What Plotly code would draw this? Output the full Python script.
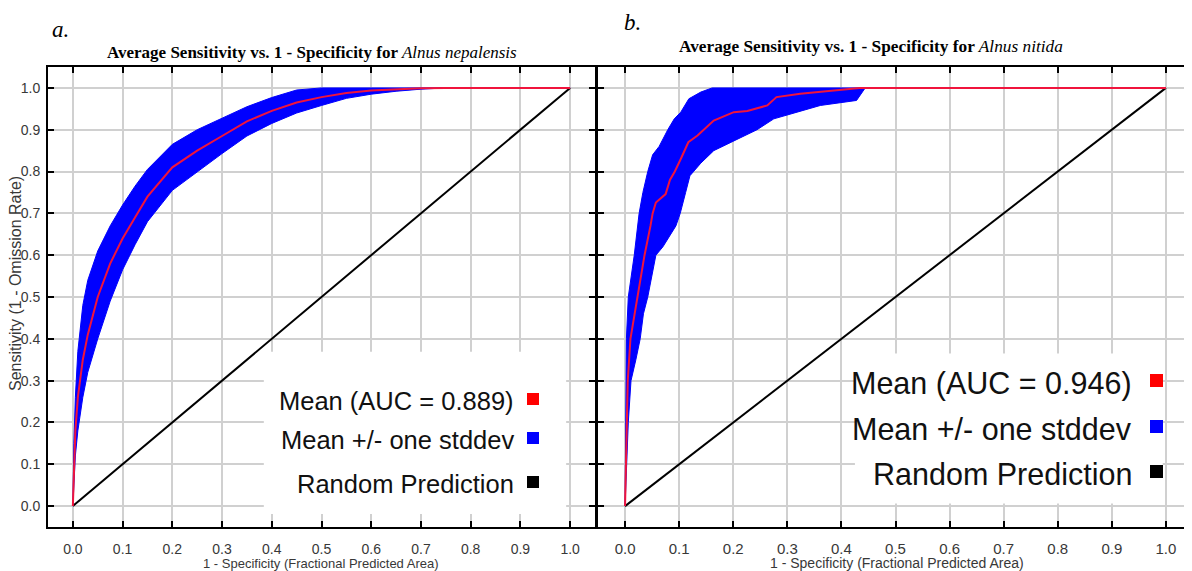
import plotly.graph_objects as go

W, H = 1192, 571
OFF = 8  # default page body margin in the exported html

# ---------------- Data: panel a (Alnus nepalensis) ----------------
a_x = [0.0, 0.002, 0.005, 0.01, 0.02, 0.03, 0.05, 0.075, 0.1, 0.125, 0.15, 0.2, 0.25,
       0.3, 0.35, 0.4, 0.45, 0.5, 0.55, 0.6, 0.65, 0.7, 0.75, 1.0]
a_mean = [0.0, 0.10, 0.18, 0.26, 0.35, 0.41, 0.50, 0.58, 0.64, 0.69, 0.74, 0.81, 0.85,
          0.885, 0.92, 0.945, 0.965, 0.978, 0.988, 0.994, 0.997, 0.999, 1.0, 1.0]
a_upper = [0.0, 0.15, 0.26, 0.37, 0.48, 0.54, 0.61, 0.67, 0.72, 0.765, 0.805, 0.865, 0.90,
           0.927, 0.955, 0.977, 0.995, 1.0, 1.0, 1.0, 1.0, 1.0, 1.0, 1.0]
a_lower = [0.0, 0.06, 0.12, 0.18, 0.26, 0.32, 0.40, 0.49, 0.565, 0.625, 0.68, 0.755, 0.80,
           0.843, 0.885, 0.915, 0.94, 0.958, 0.975, 0.985, 0.992, 0.997, 1.0, 1.0]

# ---------------- Data: panel b (Alnus nitida) ----------------
b_x = [0.0, 0.0025, 0.005, 0.01, 0.023, 0.036, 0.047, 0.051, 0.057, 0.075, 0.083, 0.092,
       0.103, 0.117, 0.134, 0.164, 0.201, 0.226, 0.263, 0.28, 0.324, 0.385, 0.434, 1.0]
b_mean = [0.0, 0.2, 0.3, 0.4, 0.5, 0.6, 0.67, 0.7, 0.726, 0.746, 0.78, 0.8,
          0.83, 0.87, 0.886, 0.922, 0.942, 0.945, 0.958, 0.978, 0.986, 0.994, 1.0, 1.0]
b_upper_x = [0.0, 0.001, 0.0025, 0.006, 0.017, 0.026, 0.033, 0.042, 0.051, 0.063, 0.079,
             0.091, 0.103, 0.118, 0.14, 0.161, 0.444]
b_upper_y = [0.0, 0.2, 0.4, 0.5, 0.6, 0.7, 0.75, 0.8, 0.84, 0.86, 0.9,
             0.926, 0.942, 0.974, 0.99, 1.0, 1.0]
b_lower_x = [0.0, 0.006, 0.011, 0.02, 0.028, 0.034, 0.042, 0.048, 0.057, 0.07, 0.094, 0.102,
             0.112, 0.12, 0.14, 0.164, 0.201, 0.244, 0.275, 0.318, 0.361, 0.428, 0.444]
b_lower_y = [0.0, 0.2, 0.3, 0.35, 0.4, 0.46, 0.5, 0.54, 0.6, 0.62, 0.67, 0.7,
             0.75, 0.79, 0.82, 0.85, 0.874, 0.9, 0.926, 0.942, 0.958, 0.97, 1.0]

diag = [0.0, 1.0]
ticks = [0.0, 0.1, 0.2, 0.3, 0.4, 0.5, 0.6, 0.7, 0.8, 0.9, 1.0]
tick_text = ["0.0", "0.1", "0.2", "0.3", "0.4", "0.5", "0.6", "0.7", "0.8", "0.9", "1.0"]

legend_labels_a = ["Mean (AUC = 0.889)", "Mean +/- one stddev", "Random Prediction"]
legend_labels_b = ["Mean (AUC = 0.946)", "Mean +/- one stddev", "Random Prediction"]
legend_colors = ["#ff0000", "#0000ff", "#000000"]

BLUE = "#0000ff"
RED = "#f0143c"
SANS = "Liberation Sans Narrow, Liberation Sans, Arial, sans-serif"
GREY = "#383838"

fig = go.Figure()

# panel a
fig.add_trace(go.Scatter(x=a_x + a_x[::-1], y=a_upper + a_lower[::-1], fill="toself",
                         fillcolor=BLUE, line=dict(color=BLUE, width=1), mode="lines",
                         xaxis="x", yaxis="y", hoverinfo="skip"))
fig.add_trace(go.Scatter(x=diag, y=diag, mode="lines", line=dict(color="black", width=2),
                         xaxis="x", yaxis="y"))
fig.add_trace(go.Scatter(x=a_x, y=a_mean, mode="lines", line=dict(color=RED, width=2),
                         xaxis="x", yaxis="y"))

# panel b
fig.add_trace(go.Scatter(x=b_upper_x + b_lower_x[::-1], y=b_upper_y + b_lower_y[::-1],
                         fill="toself", fillcolor=BLUE, line=dict(color=BLUE, width=1),
                         mode="lines", xaxis="x2", yaxis="y2", hoverinfo="skip"))
fig.add_trace(go.Scatter(x=diag, y=diag, mode="lines", line=dict(color="black", width=2),
                         xaxis="x2", yaxis="y2"))
fig.add_trace(go.Scatter(x=b_x, y=b_mean, mode="lines", line=dict(color=RED, width=2),
                         xaxis="x2", yaxis="y2"))


def px(x):
    """page pixel x -> paper fraction"""
    return (x - OFF) / W


def py(y):
    """page pixel y -> paper fraction"""
    return 1 - (y - OFF) / H


ydom = [py(527), py(67)]

axis_common = dict(range=[-0.05, 1.05], tickvals=ticks, ticktext=tick_text,
                   showgrid=True, gridcolor="#d0d0d0", gridwidth=1.5,
                   showline=True, linecolor="black", linewidth=2, mirror="ticks",
                   ticks="inside", ticklen=6, tickwidth=1.5, tickcolor="black",
                   zeroline=False, fixedrange=True)

fig.update_layout(
    width=W, height=H, margin=dict(l=0, r=0, t=0, b=0),
    paper_bgcolor="white", plot_bgcolor="white", showlegend=False,
    xaxis=dict(domain=[px(48), px(595)], anchor="y",
               tickfont=dict(family=SANS, size=14, color=GREY),
               ticklabelstandoff=8, **axis_common),
    yaxis=dict(domain=ydom, anchor="x",
               tickfont=dict(family=SANS, size=14, color=GREY),
               ticklabelstandoff=3, **axis_common),
    xaxis2=dict(domain=[px(598), px(1193)], anchor="y2",
                tickfont=dict(family=SANS, size=15, color=GREY),
                ticklabelstandoff=7, **axis_common),
    yaxis2=dict(domain=ydom, anchor="x2", showticklabels=False, **axis_common),
)
fig.update_layout(yaxis2=dict(linewidth=3))

ann = []
# panel letters
ann.append(dict(text="<i>a.</i>", x=px(50), y=py(30), xref="paper", yref="paper",
                xanchor="left", yanchor="middle", showarrow=False,
                font=dict(family="Liberation Serif", size=23, color="black")))
ann.append(dict(text="<i>b.</i>", x=px(622), y=py(22), xref="paper", yref="paper",
                xanchor="left", yanchor="middle", showarrow=False,
                font=dict(family="Liberation Serif", size=23, color="black")))
# titles
ann.append(dict(text="<b>Average Sensitivity vs. 1 - Specificity for </b><i>Alnus nepalensis</i>",
                x=px(312), y=py(53), xref="paper", yref="paper", xanchor="center",
                yanchor="middle", showarrow=False,
                font=dict(family="Liberation Serif", size=17, color="black")))
ann.append(dict(text="<b>Average Sensitivity vs. 1 - Specificity for </b><i>Alnus nitida</i>",
                x=px(871), y=py(47), xref="paper", yref="paper", xanchor="center",
                yanchor="middle", showarrow=False,
                font=dict(family="Liberation Serif", size=17.3, color="black")))
# axis titles
ann.append(dict(text="Sensitivity (1 - Omission Rate)", x=px(15), y=py(284), xref="paper",
                yref="paper", xanchor="center", yanchor="middle", textangle=-90,
                showarrow=False, font=dict(family=SANS, size=16, color=GREY)))
ann.append(dict(text="1 - Specificity (Fractional Predicted Area)", x=px(321), y=py(563),
                xref="paper", yref="paper", xanchor="center", yanchor="middle",
                showarrow=False, font=dict(family=SANS, size=13, color=GREY)))
ann.append(dict(text="1 - Specificity (Fractional Predicted Area)", x=px(897), y=py(563),
                xref="paper", yref="paper", xanchor="center", yanchor="middle",
                showarrow=False, font=dict(family=SANS, size=14, color=GREY)))

shapes = []
# legend backgrounds
shapes.append(dict(type="rect", xref="x", yref="y", x0=0.384, x1=0.992, y0=-0.019, y1=0.369,
                   fillcolor="white", line=dict(width=0), layer="between"))
shapes.append(dict(type="rect", xref="x2", yref="y2", x0=0.425, x1=0.994, y0=0.006, y1=0.365,
                   fillcolor="white", line=dict(width=0), layer="between"))

leg_a_y = [401, 440, 484]
leg_b_y = [383, 429, 474]
for i in range(3):
    ann.append(dict(text=legend_labels_a[i], x=px(516), y=py(leg_a_y[i]), xref="paper",
                    yref="paper", xanchor="right", yanchor="middle", showarrow=False,
                    font=dict(family="Liberation Sans", size=25.5, color="#111111")))
    shapes.append(dict(type="rect", xref="paper", yref="paper",
                       x0=px(527), x1=px(539), y0=py(leg_a_y[i] - 8), y1=py(leg_a_y[i] + 4),
                       fillcolor=legend_colors[i], line=dict(width=0), layer="above"))
    ann.append(dict(text=legend_labels_b[i], x=px(1134), y=py(leg_b_y[i]), xref="paper",
                    yref="paper", xanchor="right", yanchor="middle", showarrow=False,
                    font=dict(family="Liberation Sans", size=30.5, color="#111111")))
    shapes.append(dict(type="rect", xref="paper", yref="paper",
                       x0=px(1150), x1=px(1163), y0=py(leg_b_y[i] - 9), y1=py(leg_b_y[i] + 4),
                       fillcolor=legend_colors[i], line=dict(width=0), layer="above"))

fig.update_layout(annotations=ann, shapes=shapes)
fig.write_html("out.html")
